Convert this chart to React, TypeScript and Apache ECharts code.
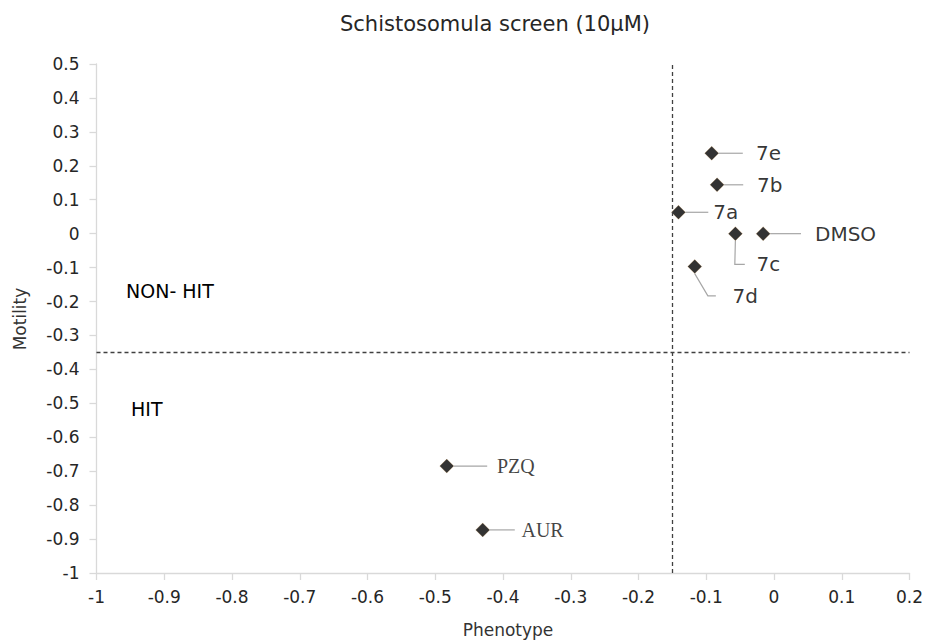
import React, { useEffect, useRef } from 'react';
import * as echarts from 'echarts';

// ---- data ----
const compounds = ['7e', '7b', '7a', '7c', 'DMSO', '7d', 'PZQ', 'AUR'];
const phenotype = [-0.092, -0.084, -0.141, -0.057, -0.016, -0.117, -0.483, -0.43];
const motility = [0.237, 0.144, 0.063, 0, 0, -0.097, -0.685, -0.873];

const xRange = { min: -1, max: 0.2, step: 0.1 };
const yRange = { min: -1, max: 0.5, step: 0.1 };
const phenotypeCutoff = -0.15;
const motilityCutoff = -0.35;

const titleText = 'Schistosomula screen (10μM)';
const xName = 'Phenotype';
const yName = 'Motility';
const regionNonHit = 'NON- HIT';
const regionHit = 'HIT';

// ---- label placement (layout only) ----
const labelDx = [24.5, 19.5, 23.2, 2.8, 31.2, 14.5, 33.8, 25.5];
const labelDy = [0, 0, 0, 30.7, 0, 29.3, 0, 0];
const labelPadLeft = [13.3, 13.7, 5, 11.7, 14, 16.7, 9.7, 6.7];
const labelPadRight = [0, 0, 0, 22, 0, 0, 0, 0];
const labelLen2 = [10, 10, 4, 10, 10, 8, 10, 8];
const serifLabels = ['PZQ', 'AUR'];

const fmt = (v: number) => String(Math.round(v * 10) / 10);

export default function App() {
  const ref = useRef<HTMLDivElement>(null);

  useEffect(() => {
    const chart = echarts.init(ref.current!, null, { renderer: 'svg' });

    const axisLineStyle = { color: '#d9d9d9', width: 1.3 };
    const tickFont = { color: '#262626', fontSize: 17, fontFamily: 'DejaVu Sans' };

    const option: any = {
      animation: false,
      backgroundColor: '#ffffff',
      grid: { left: 96.5, right: 18.5, top: 64, bottom: 68 },
      xAxis: {
        type: 'value',
        min: xRange.min,
        max: xRange.max,
        interval: xRange.step,
        axisLine: { show: true, onZero: false, lineStyle: axisLineStyle },
        axisTick: { show: true, length: 7, lineStyle: axisLineStyle },
        axisLabel: { ...tickFont, margin: 15, formatter: fmt },
        splitLine: { show: false },
      },
      yAxis: {
        type: 'value',
        min: yRange.min,
        max: yRange.max,
        interval: yRange.step,
        axisLine: { show: true, onZero: false, lineStyle: axisLineStyle },
        axisTick: { show: true, length: 7, lineStyle: axisLineStyle },
        axisLabel: { ...tickFont, margin: 17, formatter: fmt },
        splitLine: { show: false },
      },
      graphic: [
        {
          type: 'text',
          x: 495,
          y: 24,
          style: {
            text: titleText,
            font: '21px "DejaVu Sans"',
            fill: '#262626',
            textAlign: 'center',
            textVerticalAlign: 'middle',
          },
        },
        {
          type: 'text',
          x: 508,
          y: 630,
          style: {
            text: xName,
            font: '17px "DejaVu Sans"',
            fill: '#333333',
            textAlign: 'center',
            textVerticalAlign: 'middle',
          },
        },
        {
          type: 'text',
          x: 20,
          y: 319,
          rotation: Math.PI / 2,
          style: {
            text: yName,
            font: '17px "DejaVu Sans"',
            fill: '#333333',
            textAlign: 'center',
            textVerticalAlign: 'middle',
          },
        },
        {
          type: 'text',
          x: 126,
          y: 291,
          style: {
            text: regionNonHit,
            font: '19px "DejaVu Sans"',
            fill: '#000',
            textAlign: 'left',
            textVerticalAlign: 'middle',
          },
        },
        {
          type: 'text',
          x: 131,
          y: 409,
          style: {
            text: regionHit,
            font: '19px "DejaVu Sans"',
            fill: '#000',
            textAlign: 'left',
            textVerticalAlign: 'middle',
          },
        },
      ],
      series: [
        {
          type: 'scatter',
          symbol: 'diamond',
          symbolSize: 14,
          itemStyle: { color: '#000000', borderColor: '#d08a30', borderWidth: 0.25 },
          data: compounds.map((name, i) => ({
            name,
            value: [phenotype[i], motility[i]],
            label: {
              padding: [0, labelPadRight[i], 0, labelPadLeft[i]],
              ...(serifLabels.includes(name)
                ? { fontFamily: 'Liberation Serif', fontSize: 20, color: '#111' }
                : {}),
            },
            labelLine: { length2: labelLen2[i] },
          })),
          label: {
            show: true,
            position: 'right',
            distance: 0,
            formatter: '{b}',
            color: '#000000',
            fontSize: 20,
            fontFamily: 'DejaVu Sans',
            backgroundColor: 'rgba(0,0,0,0)',
          },
          labelLine: {
            show: true,
            length2: 10,
            lineStyle: { color: '#a6a6a6', width: 1.2 },
          },
          labelLayout: (p: any) => ({ dx: labelDx[p.dataIndex] - 0.5, dy: labelDy[p.dataIndex] }),
          markLine: {
            silent: true,
            symbol: 'none',
            label: { show: false },
            lineStyle: { type: [4, 3], color: '#404040', width: 1.3 },
            data: [{ xAxis: phenotypeCutoff }, { yAxis: motilityCutoff }],
          },
          z: 3,
        },
      ],
    };

    chart.setOption(option);
    return () => chart.dispose();
  }, []);

  return (
    <div
      ref={ref}
      style={{ position: 'fixed', left: 0, top: 0, width: 928, height: 641, background: '#fff' }}
    />
  );
}
